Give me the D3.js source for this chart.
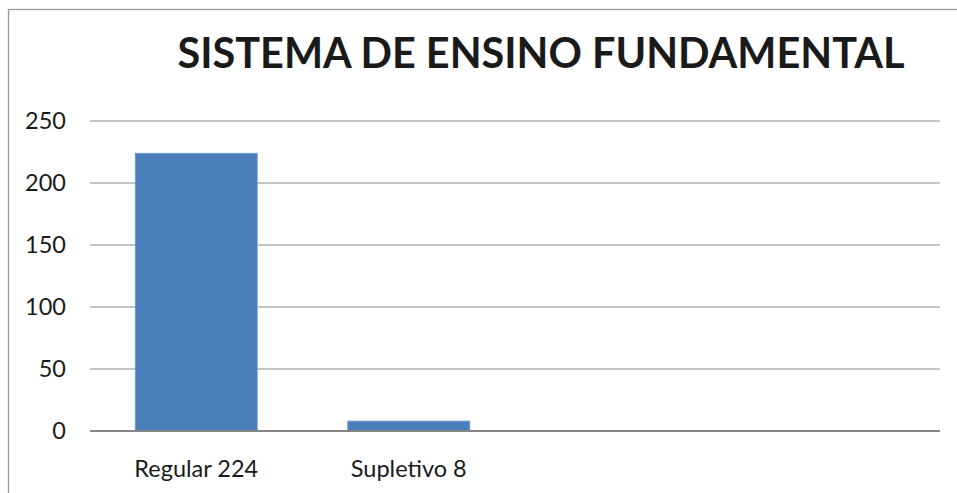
<!DOCTYPE html>
<html>
<head>
<meta charset="utf-8">
<script src="https://cdn.jsdelivr.net/npm/d3@7"></script>
<style>
  body { margin: 0; background: #fff; }
  svg { display: block; font-family: Lato, "Open Sans", sans-serif; }
</style>
</head>
<body>
<div id="chart"></div>
<script>
var width = 957;
var height = 493;

var categories = ["Regular 224", "Supletivo 8", "c3", "c4"];
var categoryLabels = ["Regular 224", "Supletivo 8", "", ""];
var values = [224, 8, null, null];
var yTicks = [0, 50, 100, 150, 200, 250];
var title = "SISTEMA DE ENSINO FUNDAMENTAL";

var margin = {left: 90, right: 17, top: 121, bottom: 62};

var svg = d3.select("#chart")
  .append("svg")
  .attr("width", width)
  .attr("height", height);

// outer frame of the chart object (runs off the right and bottom edges)
svg.append("rect")
  .attr("x", 8.5)
  .attr("y", 9.5)
  .attr("width", width + 20)
  .attr("height", height + 20)
  .attr("fill", "none")
  .attr("stroke", "#9a9a9a")
  .attr("stroke-width", 1.3);

var x = d3.scaleBand()
  .domain(categories)
  .range([margin.left, width - margin.right])
  .paddingInner(0.426)
  .paddingOuter(0.213);

var y = d3.scaleLinear()
  .domain([0, 250])
  .range([height - margin.bottom, margin.top]);

// gridlines
svg.append("g")
  .selectAll("line")
  .data(yTicks.filter(function(d) { return d > 0; }))
  .enter()
  .append("line")
  .attr("x1", margin.left)
  .attr("x2", width - margin.right)
  .attr("y1", function(d) { return y(d); })
  .attr("y2", function(d) { return y(d); })
  .attr("stroke", "#8c8c8c")
  .attr("stroke-width", 1.2);

// bars
svg.append("g")
  .selectAll("rect")
  .data(categories.map(function(c, i) { return {cat: c, v: values[i]}; })
    .filter(function(d) { return d.v != null; }))
  .enter()
  .append("rect")
  .attr("x", function(d) { return x(d.cat); })
  .attr("width", x.bandwidth())
  .attr("y", function(d) { return y(d.v); })
  .attr("height", function(d) { return y(0) - y(d.v); })
  .attr("fill", "#4a7ebb")
  .attr("stroke", "#6c9ad0")
  .attr("stroke-width", 0.8);

// zero axis line
svg.append("line")
  .attr("x1", margin.left)
  .attr("x2", width - margin.right)
  .attr("y1", y(0))
  .attr("y2", y(0))
  .attr("stroke", "#868686")
  .attr("stroke-width", 2);

// y tick labels
svg.append("g")
  .selectAll("text")
  .data(yTicks)
  .enter()
  .append("text")
  .attr("x", 66)
  .attr("y", function(d) { return y(d); })
  .attr("dy", "0.36em")
  .attr("text-anchor", "end")
  .attr("font-size", 23.5)
  .attr("fill", "#1a1a1a")
  .text(function(d) { return d; });

// x category labels
svg.append("g")
  .selectAll("text")
  .data(categories)
  .enter()
  .append("text")
  .attr("x", function(d) { return x(d) + x.bandwidth() / 2; })
  .attr("y", 469)
  .attr("dy", "0.36em")
  .attr("text-anchor", "middle")
  .attr("font-size", 23.5)
  .attr("fill", "#1a1a1a")
  .text(function(d, i) { return categoryLabels[i]; });

// title
var t = svg.append("text")
  .attr("x", 541)
  .attr("y", 68)
  .attr("text-anchor", "middle")
  .attr("font-size", 42)
  .attr("font-weight", "bold")
  .attr("fill", "#1a1a1a")
  .text(title);
var w = t.node().getComputedTextLength();
t.attr("font-size", 42 * 727 / w);
</script>
</body>
</html>
